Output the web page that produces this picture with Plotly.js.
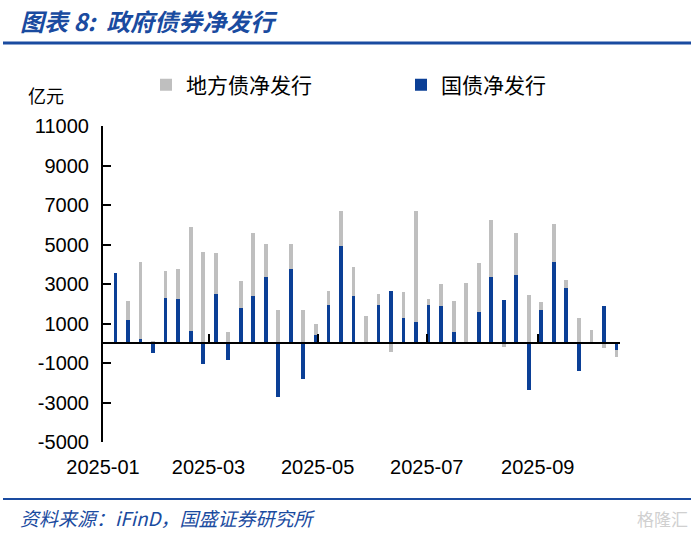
<!DOCTYPE html>
<html>
<head>
<meta charset="utf-8">
<script src="https://cdn.plot.ly/plotly-3.0.1.min.js"></script>
<style>
  html, body { margin: 0; padding: 0; background: #fff; }
  #chart { width: 694px; height: 535px; }
</style>
</head>
<body>
<div id="chart"></div>
<script>
// Weekly dates
const weeks = [
  '2025-01-08','2025-01-15','2025-01-22','2025-01-29',
  '2025-02-05','2025-02-12','2025-02-19','2025-02-26',
  '2025-03-05','2025-03-12','2025-03-19','2025-03-26',
  '2025-04-02','2025-04-09','2025-04-16','2025-04-23','2025-04-30',
  '2025-05-07','2025-05-14','2025-05-21','2025-05-28',
  '2025-06-04','2025-06-11','2025-06-18','2025-06-25',
  '2025-07-02','2025-07-09','2025-07-16','2025-07-23','2025-07-30',
  '2025-08-06','2025-08-13','2025-08-20','2025-08-27',
  '2025-09-03','2025-09-10','2025-09-17','2025-09-24',
  '2025-10-01','2025-10-08','2025-10-15'
];
// 国债净发行 (亿元)
const treasuryNet = [
  3550, 1170, 230, -470,
  2280, 2230, 600, -1030,
  2470, -830, 1780, 2400,
  3370, -2700, 3750, -1830, 400,
  1930, 4930, 2380, 0,
  1950, 2650, 1300, 1080,
  1950, 1870, 570, 70, 1570,
  3330, 2180, 3470, -2370,
  1670, 4100, 2820, -1430,
  0, 1870, -330
];
// 地方债净发行 (亿元)
const localNet = [
  0, 960, 3900, 100,
  1370, 1540, 5270, 4600,
  2110, 550, 1370, 3180,
  1680, 1680, 1270, 1670, 570,
  720, 1770, 1490, 1400,
  550, -450, 1320, 5620,
  300, 1150, 1580, 2980, 2480,
  2890, -170, 2130, 2450,
  430, 1950, 380, 1270,
  680, -250, -370
];
const xTickDates = ['2025-01-01','2025-03-01','2025-05-01','2025-07-01','2025-09-01'];
const xTickLabels = ['2025-01','2025-03','2025-05','2025-07','2025-09'];
const yTickVals = [-5000, -3000, -1000, 1000, 3000, 5000, 7000, 9000, 11000];
const yTickLabels = ['-5000', '-3000', '-1000', '1000', '3000', '5000', '7000', '9000', '11000'];
const xRange = ['2025-01-01','2025-10-17'];
const yRange = [-5000, 11000];

const BLUE = '#0b3f96';
const GRAY = '#bfbfbf';
const TITLE_BLUE = '#1a4ba0';
const barW = 2.1 * 86400000;

const M = {l: 103, r: 74, t: 126, b: 93};
const W = 694, H = 535;
const pw = W - M.l - M.r, ph = H - M.t - M.b;
const px = x => (x - M.l) / pw;
const py = y => (H - M.b - y) / ph;

const numFont = 'Liberation Sans, Arial, sans-serif';
const cjkFont = 'Noto Sans CJK SC, sans-serif';

const data = [
  {
    type: 'bar', name: '国债净发行', x: weeks, y: treasuryNet,
    width: barW, marker: {color: BLUE, line: {width: 0}},
    xaxis: 'x', yaxis: 'y', hoverinfo: 'skip', legend: 'legend2'
  },
  {
    type: 'bar', name: '地方债净发行', x: weeks, y: localNet,
    width: barW, marker: {color: GRAY, line: {width: 0}},
    xaxis: 'x', yaxis: 'y', hoverinfo: 'skip', legend: 'legend'
  },
  {
    type: 'scatter', x: [], y: [], xaxis: 'x2', yaxis: 'y',
    showlegend: false, hoverinfo: 'skip'
  }
];

const legendBase = {
  orientation: 'h', xref: 'container', yref: 'container',
  xanchor: 'left', y: 1 - 85 / H, yanchor: 'middle',
  font: {family: cjkFont, size: 21, color: '#000'},
  itemwidth: 30, bgcolor: 'rgba(0,0,0,0)'
};

const layout = {
  width: W, height: H,
  margin: M,
  paper_bgcolor: '#fff', plot_bgcolor: 'rgba(0,0,0,0)',
  barmode: 'relative',
  bargap: 0,
  showlegend: true,
  legend: Object.assign({}, legendBase, {x: 146 / W}),
  legend2: Object.assign({}, legendBase, {x: 401 / W}),
  xaxis: {
    type: 'date', range: xRange,
    tickmode: 'array', tickvals: xTickDates, ticktext: xTickLabels,
    ticks: '', showline: false, showgrid: false, zeroline: false,
    tickfont: {family: numFont, size: 20, color: '#000'},
    ticklabelstandoff: 11
  },
  xaxis2: {
    type: 'date', range: xRange, overlaying: 'x', anchor: 'free',
    position: (0 - yRange[0]) / (yRange[1] - yRange[0]),
    side: 'bottom',
    tickmode: 'array', tickvals: xTickDates, showticklabels: false,
    ticks: 'inside', ticklen: 8, tickwidth: 2, tickcolor: '#000',
    showline: true, linecolor: '#000', linewidth: 2,
    showgrid: false, zeroline: false
  },
  yaxis: {
    range: yRange, tickmode: 'array', tickvals: yTickVals, ticktext: yTickLabels,
    ticks: 'inside', ticklen: 8, tickwidth: 2, tickcolor: '#000',
    showline: true, linecolor: '#000', linewidth: 2,
    showgrid: false, zeroline: false,
    tickfont: {family: numFont, size: 20, color: '#000'},
    ticklabelstandoff: 8
  },
  shapes: [
    {type: 'line', xref: 'paper', yref: 'paper', x0: px(3), x1: px(691), y0: py(43), y1: py(43),
     line: {color: TITLE_BLUE, width: 3}},
    {type: 'line', xref: 'paper', yref: 'paper', x0: px(3), x1: px(691), y0: py(499), y1: py(499),
     line: {color: TITLE_BLUE, width: 2}}
  ],
  annotations: [
    {xref: 'paper', yref: 'paper', x: px(18), y: py(20), xanchor: 'left', yanchor: 'middle',
     text: '<b><i>图表 8:  政府债券净发行</i></b>', showarrow: false,
     font: {family: cjkFont, size: 24, color: TITLE_BLUE}},
    {xref: 'paper', yref: 'paper', x: px(46), y: py(95), xanchor: 'center', yanchor: 'middle',
     text: '亿元', showarrow: false, font: {family: cjkFont, size: 18, color: '#000'}},
    {xref: 'paper', yref: 'paper', x: px(18), y: py(517), xanchor: 'left', yanchor: 'middle',
     text: '<i>资料来源：iFinD，国盛证券研究所</i>', showarrow: false,
     font: {family: cjkFont, size: 19, color: TITLE_BLUE}},
    {xref: 'paper', yref: 'paper', x: px(690), y: py(518), xanchor: 'right', yanchor: 'middle',
     text: '格隆汇', showarrow: false, font: {family: cjkFont, size: 17, color: '#d0d0d0'}}
  ]
};

Plotly.newPlot('chart', data, layout, {displayModeBar: false, staticPlot: true});
</script>
</body>
</html>
